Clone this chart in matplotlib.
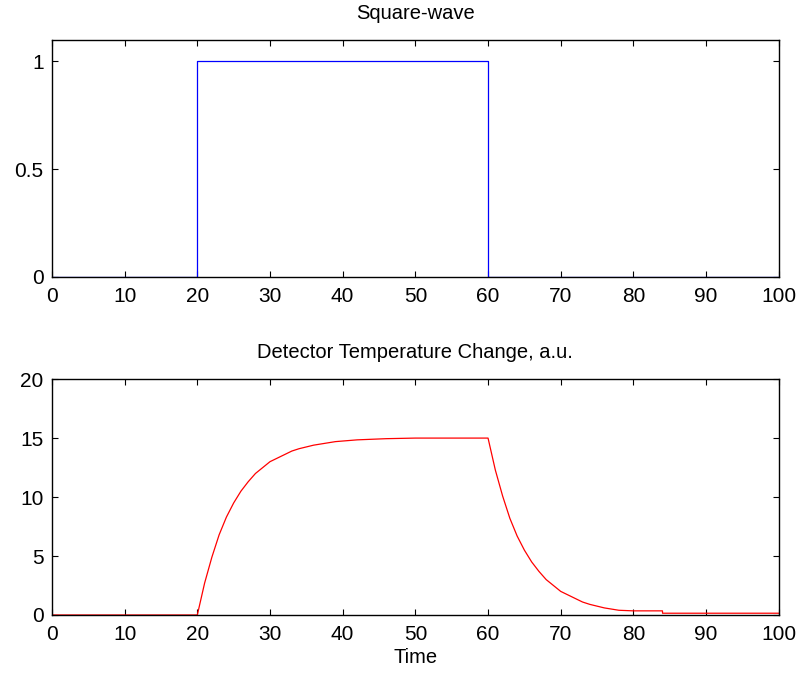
import matplotlib
matplotlib.use("Agg")
import matplotlib.pyplot as plt

plt.rcParams['font.family'] = ['Liberation Sans', 'DejaVu Sans']

# Square wave
sq_t = [0, 20, 20, 60, 60, 100]
sq_v = [0, 0, 1, 1, 0, 0]

# Detector temperature
temp_t = [0, 20, 21, 22, 23, 24, 25, 26, 27, 28, 29, 30, 31, 32, 33, 34, 35, 36, 37, 38, 39,
          40, 42, 44, 46, 50, 60, 61, 62, 63, 64, 65, 66, 67, 68, 69, 70, 71, 72, 73, 74,
          75, 76, 77, 78, 80, 84, 84.01, 100]
temp_v = [0, 0, 2.7, 4.9, 6.8, 8.3, 9.5, 10.5, 11.3, 12.0, 12.5, 13.0, 13.3, 13.6, 13.9, 14.1,
          14.25, 14.4, 14.5, 14.6, 14.7, 14.75, 14.85, 14.9, 14.95, 15.0, 15.0, 12.3, 10.1, 8.2,
          6.7, 5.5, 4.5, 3.7, 3.0, 2.5, 2.0, 1.7, 1.4, 1.1, 0.9, 0.75, 0.6, 0.5, 0.4, 0.35,
          0.35, 0.15, 0.15]

xticks = [0, 10, 20, 30, 40, 50, 60, 70, 80, 90, 100]
top_yticks = [0, 0.5, 1]
top_yticklabels = ['0', '0.5', '1']
bot_yticks = [0, 5, 10, 15, 20]

fig = plt.figure(figsize=(8.07, 6.77), dpi=100)
ax1 = fig.add_axes([0.0644, 0.591, 0.9006, 0.350])
ax2 = fig.add_axes([0.0644, 0.0916, 0.9006, 0.3484])

ax1.plot(sq_t, sq_v, color='#0000ff', lw=0.9)
ax1.set_xlim(0, 100)
ax1.set_ylim(0, 1.1)
ax1.set_yticks(top_yticks)
ax1.set_yticklabels(top_yticklabels)
ax1.set_title('Square-wave', fontsize=14.5, pad=15)

ax2.plot(temp_t, temp_v, color='#ff0000', lw=0.9)
ax2.set_xlim(0, 100)
ax2.set_ylim(0, 20)
ax2.set_yticks(bot_yticks)
ax2.set_title('Detector Temperature Change, a.u.', fontsize=14.5, pad=15)
ax2.set_xlabel('Time', fontsize=14.5, labelpad=3)

for ax in (ax1, ax2):
    ax.set_xticks(xticks)
    ax.tick_params(direction='in', top=True, right=True, length=4, width=0.8,
                   labelsize=15)
    ax.tick_params(axis='x', pad=7)
    ax.tick_params(axis='y', pad=6)
    for s in ax.spines.values():
        s.set_linewidth(1.0)
        s.set_color('black')

fig.savefig('out.png', dpi=100)
